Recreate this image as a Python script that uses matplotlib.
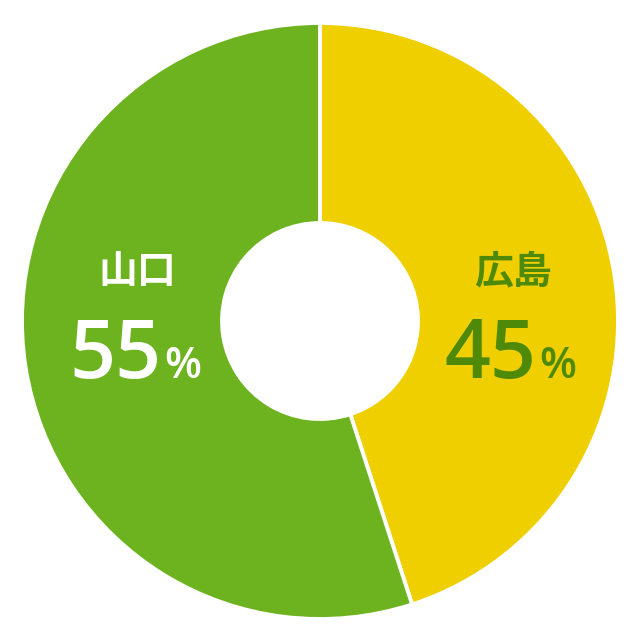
import matplotlib
matplotlib.use("Agg")
import matplotlib.pyplot as plt

labels = ["広島", "山口"]
values = [45, 55]
colors = ["#F0CF00", "#6DB31F"]
text_colors = ["#4E8A08", "#FFFFFF"]

fig = plt.figure(figsize=(6.40, 6.42), dpi=100)
ax = fig.add_axes([0, 0, 1, 1])

cx, cy = 320, 321
R = 298
r_in = 98
ax.pie(values, colors=colors, startangle=90, counterclock=False,
       center=(cx, cy), radius=R,
       wedgeprops=dict(width=R - r_in, edgecolor="white", linewidth=2.8),
       frame=True)
ax.set_xlim(0, 640)
ax.set_ylim(0, 642)
ax.set_aspect("equal")
ax.axis("off")

# label positions (pixel coords, y from top)
pos = [(513, 272, 536), (137, 272, 161)]
for lab, val, tc, (lx, ly, nx) in zip(labels, values, text_colors, pos):
    ax.text(lx, 642 - ly, lab, ha="center", va="center", color=tc,
            fontsize=28, fontweight="bold", family=["Noto Sans CJK JP", "DejaVu Sans"])
    ax.text(nx, 642 - 378, str(val), ha="right", va="baseline", color=tc,
            fontsize=58, fontweight="semibold", family=["Open Sans", "DejaVu Sans"])
    ax.text(nx + 3, 642 - 378, "%", ha="left", va="baseline", color=tc,
            fontsize=31, fontweight="semibold", family=["Open Sans", "DejaVu Sans"])

fig.savefig("out.png", dpi=100, facecolor="white")
